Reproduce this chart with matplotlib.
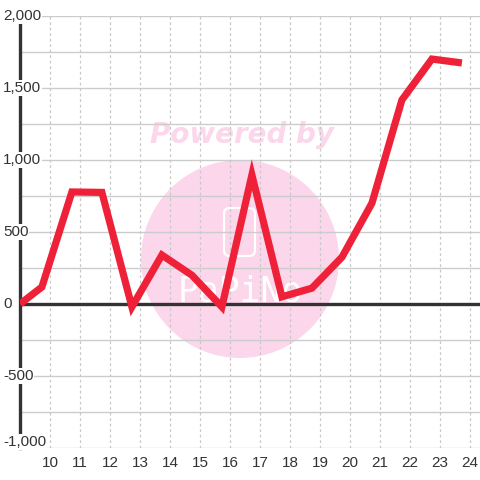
import matplotlib
matplotlib.use("Agg")
import matplotlib.pyplot as plt
import matplotlib.patches as mpatches
from matplotlib.transforms import blended_transform_factory

# values
x_vals = [9.0, 9.73, 10.73, 11.73, 12.73, 13.73, 14.73, 15.73, 16.73,
          17.73, 18.73, 19.73, 20.73, 21.73, 22.73, 23.73]
y_vals = [0, 118, 778, 775, -20, 340, 200, -20, 896,
          50, 110, 325, 700, 1417, 1701, 1674]
x_ticks = list(range(10, 25))
y_ticks = [-1000, -500, 0, 500, 1000, 1500, 2000]
y_labels = ["-1,000", "-500", "0", "500", "1,000", "1,500", "2,000"]

plt.rcParams["font.family"] = ["Liberation Sans", "DejaVu Sans"]

fig = plt.figure(figsize=(4.8, 4.8), dpi=100)
ax = fig.add_axes([20 / 480, 32 / 480, 460 / 480, 432 / 480])
ax.set_xlim(9, 9 + 460 / 30)
ax.set_ylim(-1000, 2000)

for s in ["top", "right", "bottom"]:
    ax.spines[s].set_visible(False)
ax.spines["left"].set_color("#333333")
ax.spines["left"].set_linewidth(2.4)
ax.spines["left"].set_zorder(4)

# grid
for yv in range(-1000, 2001, 250):
    ax.axhline(yv, color="#cccccc", lw=1.0, zorder=1)
for xv in x_ticks:
    ax.axvline(xv, color="#c8c8c8", lw=0.9, ls=(0, (2.2, 2.2)), zorder=1)
ax.axhline(0, color="#333333", lw=2.4, zorder=3)

# watermark, behind the grid
circ = mpatches.Circle((240 / 480, 1 - 259 / 480), 99 / 480, transform=fig.transFigure,
                       facecolor="#fcd6ea", edgecolor="none", zorder=0.2)
ax.add_patch(circ)
logo = mpatches.FancyBboxPatch((224 / 480, 1 - 256 / 480), 31 / 480, 48 / 480,
                               boxstyle="round,pad=0,rounding_size=0.012",
                               transform=fig.transFigure, facecolor="none",
                               edgecolor="white", lw=1.6, zorder=0.5)
ax.add_patch(logo)
ax.text(240 / 480, 1 - 291 / 480, "PaPiNo", transform=fig.transFigure, color="white",
        fontsize=25, ha="center", va="center", family="DejaVu Sans Mono", zorder=0.5)
ax.text(242 / 480, 1 - 135 / 480, "Powered by", transform=fig.transFigure,
        color="#fcd6ea", fontsize=20, fontweight="bold", fontstyle="italic",
        ha="center", va="center", family="DejaVu Sans", zorder=0.5)

ax.plot(x_vals, y_vals, color="#ef2138", lw=5.2, solid_joinstyle="miter",
        solid_capstyle="butt", zorder=5)

# y labels drawn inside, over the axis
ax.set_yticks([])
trans = blended_transform_factory(fig.transFigure, ax.transData)
for yv, lab in zip(y_ticks, y_labels):
    off = 40 if yv == -1000 else 0
    ax.text(3 / 480, yv + off, lab, transform=trans, ha="left", va="center",
            fontsize=11, color="#333333", zorder=6,
            bbox=dict(facecolor="white", edgecolor="none", pad=0.5))

ax.set_xticks(x_ticks)
ax.set_xticklabels([str(v) for v in x_ticks])
ax.tick_params(axis="x", length=0, pad=6, labelsize=11, labelcolor="#333333")

fig.savefig("out.png", dpi=100, facecolor="white")
